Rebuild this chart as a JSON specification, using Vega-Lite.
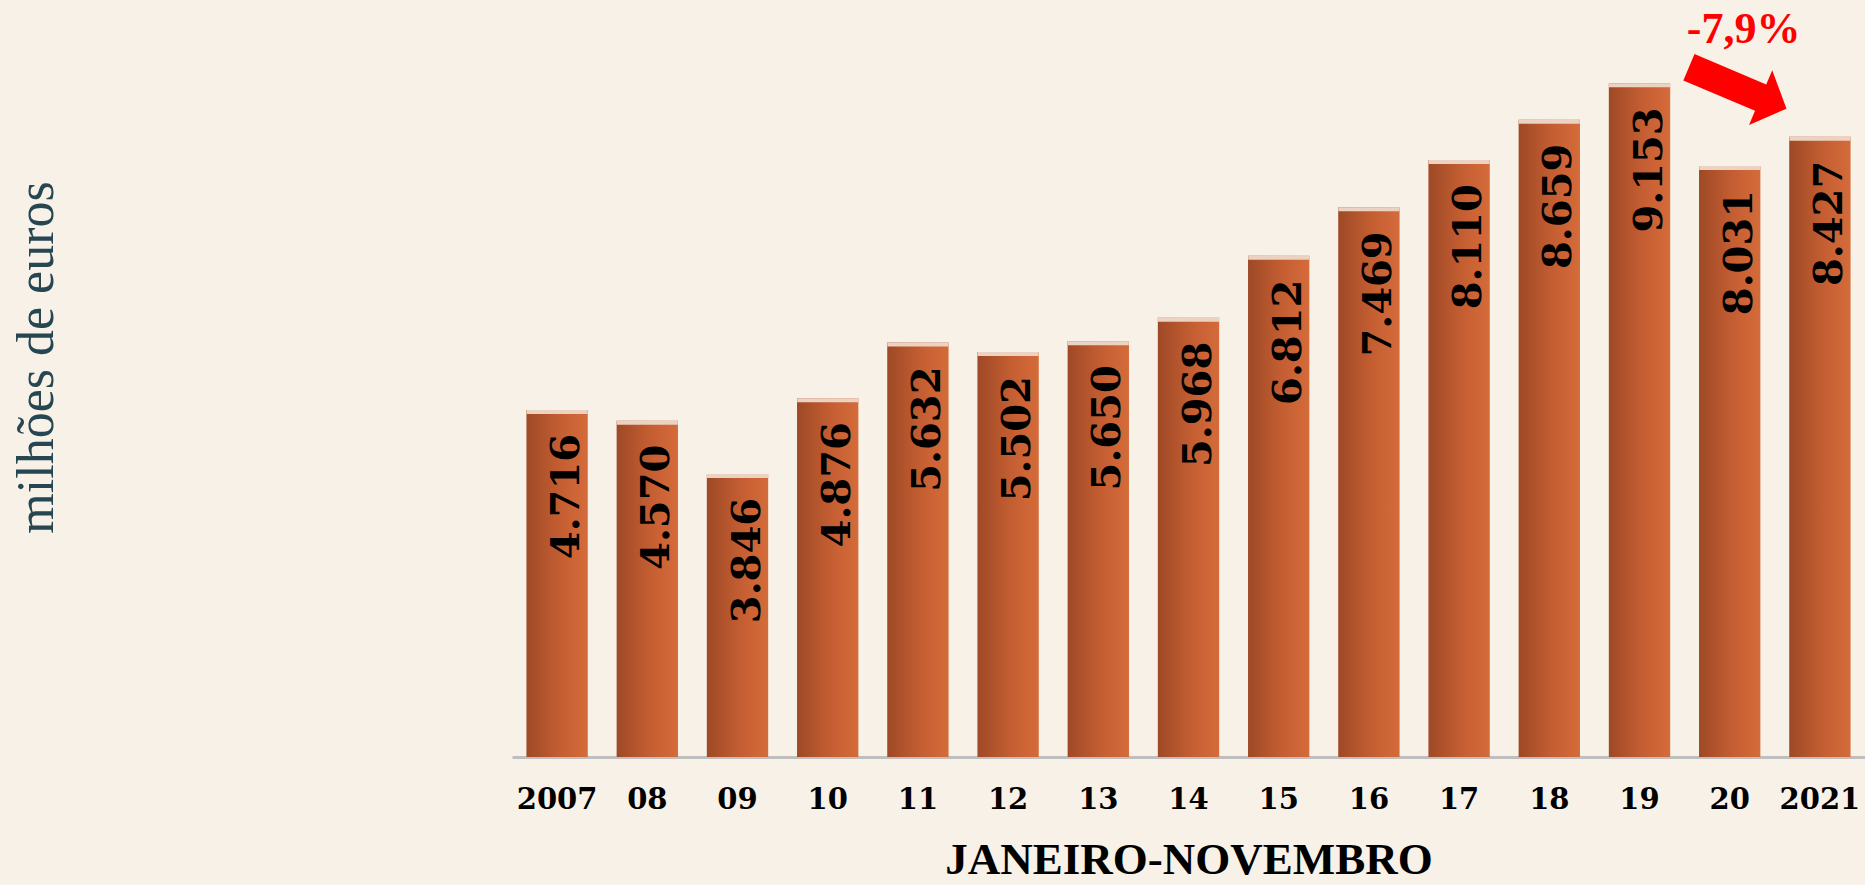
{
  "$schema": "https://vega.github.io/schema/vega-lite/v6.json",
  "width": 1353,
  "height": 736,
  "autosize": {"type": "none"},
  "padding": {"left": 512, "top": 21, "right": 0, "bottom": 128},
  "background": "#F8F1E7",
  "config": {"view": {"stroke": null}},
  "datasets": {
    "vendas": [
      {"ano": "2007", "valor": 4716, "rotulo": "4.716"},
      {"ano": "08", "valor": 4570, "rotulo": "4.570"},
      {"ano": "09", "valor": 3846, "rotulo": "3.846"},
      {"ano": "10", "valor": 4876, "rotulo": "4.876"},
      {"ano": "11", "valor": 5632, "rotulo": "5.632"},
      {"ano": "12", "valor": 5502, "rotulo": "5.502"},
      {"ano": "13", "valor": 5650, "rotulo": "5.650"},
      {"ano": "14", "valor": 5968, "rotulo": "5.968"},
      {"ano": "15", "valor": 6812, "rotulo": "6.812"},
      {"ano": "16", "valor": 7469, "rotulo": "7.469"},
      {"ano": "17", "valor": 8110, "rotulo": "8.110"},
      {"ano": "18", "valor": 8659, "rotulo": "8.659"},
      {"ano": "19", "valor": 9153, "rotulo": "9.153"},
      {"ano": "20", "valor": 8031, "rotulo": "8.031"},
      {"ano": "2021", "valor": 8427, "rotulo": "8.427"}
    ],
    "nota": [
      {"ano": "20", "valor": 8031, "variacao": "-7,9%"}
    ]
  },
  "data": {"name": "vendas"},
  "encoding": {
    "x": {
      "field": "ano",
      "type": "ordinal",
      "sort": null,
      "scale": {"paddingInner": 0.32, "paddingOuter": 0.16},
      "axis": {
        "title": "JANEIRO-NOVEMBRO",
        "titleFont": "Liberation Serif",
        "titleFontSize": 45,
        "titleFontWeight": "bold",
        "titleColor": "#000000",
        "titleBaseline": "alphabetic",
        "titleY": 116,
        "labelAngle": 0,
        "labelFont": "DejaVu Serif",
        "labelFontWeight": "bold",
        "labelFontSize": 29,
        "labelColor": "#000000",
        "labelBaseline": "alphabetic",
        "labelPadding": 51,
        "labelOverlap": false,
        "ticks": false,
        "tickSize": 0,
        "domainColor": "#BFBFBF",
        "domainWidth": 3
      }
    },
    "y": {
      "field": "valor",
      "type": "quantitative",
      "scale": {"domain": [0, 10000], "nice": false},
      "axis": {
        "title": "milhões de euros",
        "labels": false,
        "ticks": false,
        "domain": false,
        "grid": false,
        "titleFont": "Liberation Serif",
        "titleFontSize": 52,
        "titleFontWeight": "normal",
        "titleColor": "#264652",
        "titleAngle": 270,
        "titleX": -460,
        "titleY": 336,
        "titleAlign": "center",
        "titleBaseline": "alphabetic"
      }
    }
  },
  "layer": [
    {
      "mark": {
        "type": "bar",
        "color": {
          "gradient": "linear",
          "x1": 0, "y1": 0, "x2": 1, "y2": 0,
          "stops": [
            {"offset": 0, "color": "#9E4926"},
            {"offset": 0.55, "color": "#C45E32"},
            {"offset": 1, "color": "#D56B3A"}
          ]
        }
      }
    },
    {
      "mark": {"type": "tick", "thickness": 4, "size": 61, "color": "#ECD2C3", "opacity": 1, "yOffset": 2}
    },
    {
      "mark": {
        "type": "text",
        "angle": 270,
        "align": "right",
        "baseline": "alphabetic",
        "dx": -24,
        "dy": 22,
        "font": "DejaVu Serif",
        "fontWeight": "bold",
        "fontSize": 40,
        "color": "#000000"
      },
      "encoding": {"text": {"field": "rotulo"}}
    },
    {
      "data": {"name": "nota"},
      "mark": {
        "type": "point",
        "shape": "M -1 -0.27 L 0.47 -0.27 L 0.47 -0.56 L 1 0 L 0.47 0.56 L 0.47 0.27 L -1 0.27 Z",
        "size": 11236,
        "angle": 23,
        "filled": true,
        "color": "#FF0000",
        "opacity": 1,
        "strokeWidth": 0,
        "xOffset": 8,
        "yOffset": -78
      }
    },
    {
      "data": {"name": "nota"},
      "mark": {
        "type": "text",
        "font": "Liberation Serif",
        "fontWeight": "bold",
        "fontSize": 44,
        "color": "#FF0000",
        "align": "center",
        "baseline": "alphabetic",
        "dx": 14,
        "dy": -123
      },
      "encoding": {"text": {"field": "variacao"}}
    }
  ]
}
